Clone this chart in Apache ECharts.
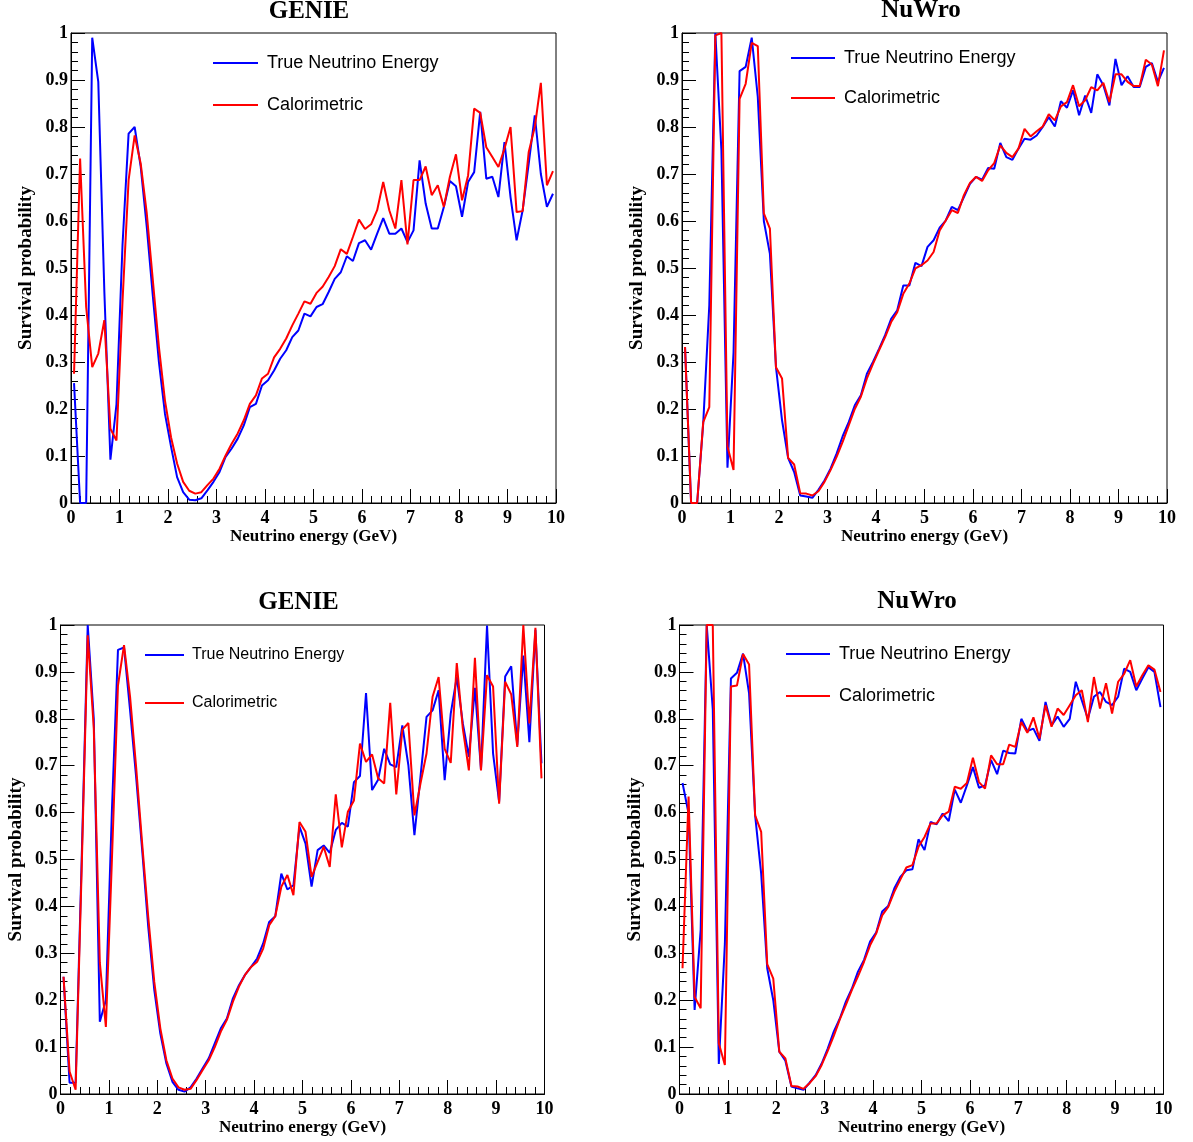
<!DOCTYPE html>
<html>
<head>
<meta charset="utf-8">
<title>Survival probability vs neutrino energy</title>
<script src="https://cdn.jsdelivr.net/npm/echarts@6/dist/echarts.min.js"></script>
<style>
  html, body { margin: 0; padding: 0; background: #ffffff; }
  #chart { width: 1193px; height: 1142px; }
</style>
</head>
<body>
<div id="chart"></div>
<script>
// Histogram binning: 80 bins of 0.125 GeV between 0 and 10 GeV
const binWidth = 0.125;
const binCenters = Array.from({ length: 80 }, (_, i) => binWidth / 2 + binWidth * i);

const xTicks = [0, 1, 2, 3, 4, 5, 6, 7, 8, 9, 10];
const yTicks = [0, 0.1, 0.2, 0.3, 0.4, 0.5, 0.6, 0.7, 0.8, 0.9, 1];

const seriesNames = ['True Neutrino Energy', 'Calorimetric'];
const panelTitles = ['GENIE', 'NuWro', 'GENIE', 'NuWro'];

// GENIE, upper panel
const genieTrueA = [
  0.255, 0, 0, 0.99, 0.896, 0.45, 0.092, 0.21, 0.55, 0.786,
  0.80, 0.715, 0.587, 0.44, 0.30, 0.19, 0.12, 0.055, 0.023, 0.007,
  0.006, 0.01, 0.027, 0.045, 0.066, 0.098, 0.116, 0.137, 0.165, 0.204,
  0.211, 0.25, 0.261, 0.282, 0.307, 0.325, 0.353, 0.367, 0.403, 0.397,
  0.417, 0.423, 0.449, 0.477, 0.491, 0.525, 0.515, 0.553, 0.559, 0.539,
  0.573, 0.606, 0.573, 0.573, 0.584, 0.555, 0.58, 0.729, 0.637, 0.584,
  0.584, 0.63, 0.685, 0.674, 0.609, 0.683, 0.704, 0.832, 0.69, 0.694,
  0.651, 0.768, 0.651, 0.559, 0.623, 0.722, 0.825, 0.70, 0.63, 0.658
];
const genieCaloA = [
  0.275, 0.733, 0.417, 0.289, 0.318, 0.389, 0.158, 0.133, 0.43, 0.687,
  0.782, 0.722, 0.616, 0.474, 0.332, 0.218, 0.14, 0.084, 0.045, 0.026,
  0.02, 0.023, 0.038, 0.052, 0.073, 0.101, 0.126, 0.148, 0.176, 0.211,
  0.229, 0.265, 0.275, 0.31, 0.328, 0.35, 0.378, 0.403, 0.429, 0.424,
  0.447, 0.46, 0.481, 0.504, 0.54, 0.53, 0.566, 0.603, 0.583, 0.593,
  0.623, 0.683, 0.623, 0.584, 0.687, 0.55, 0.687, 0.687, 0.716, 0.655,
  0.676, 0.63, 0.694, 0.742, 0.644, 0.697, 0.839, 0.83, 0.757, 0.736,
  0.715, 0.754, 0.80, 0.619, 0.621, 0.747, 0.80, 0.894, 0.676, 0.706
];

// NuWro, upper panel
const nuwroTrueA = [
  0.332, 0, 0, 0.17, 0.42, 1.0, 0.75, 0.075, 0.32, 0.919,
  0.928, 0.99, 0.864, 0.60, 0.53, 0.289, 0.176, 0.096, 0.066, 0.016,
  0.014, 0.011, 0.028, 0.048, 0.073, 0.105, 0.142, 0.172, 0.208, 0.229,
  0.275, 0.30, 0.328, 0.357, 0.392, 0.41, 0.463, 0.463, 0.511, 0.504,
  0.545, 0.559, 0.586, 0.601, 0.63, 0.623, 0.651, 0.679, 0.694, 0.688,
  0.713, 0.711, 0.766, 0.736, 0.73, 0.754, 0.775, 0.773, 0.782, 0.80,
  0.821, 0.801, 0.855, 0.841, 0.878, 0.825, 0.867, 0.83, 0.912, 0.889,
  0.846, 0.945, 0.889, 0.908, 0.885, 0.885, 0.928, 0.936, 0.896, 0.926
];
const nuwroCaloA = [
  0.332, 0, 0, 0.172, 0.204, 0.995, 1.0, 0.12, 0.07, 0.86,
  0.892, 0.979, 0.972, 0.616, 0.584, 0.289, 0.265, 0.096, 0.082, 0.021,
  0.02, 0.016, 0.025, 0.045, 0.07, 0.098, 0.13, 0.165, 0.20, 0.226,
  0.265, 0.296, 0.325, 0.353, 0.385, 0.406, 0.445, 0.467, 0.499, 0.506,
  0.516, 0.534, 0.58, 0.601, 0.623, 0.617, 0.655, 0.681, 0.694, 0.685,
  0.708, 0.723, 0.761, 0.745, 0.736, 0.754, 0.796, 0.78, 0.791, 0.801,
  0.827, 0.814, 0.844, 0.853, 0.889, 0.844, 0.857, 0.885, 0.878, 0.894,
  0.853, 0.912, 0.912, 0.896, 0.887, 0.887, 0.943, 0.933, 0.887, 0.963
];

// GENIE, lower panel
const genieTrueB = [
  0.25, 0.024, 0.024, 0.5, 1.0, 0.80, 0.154, 0.2, 0.605, 0.947,
  0.952, 0.818, 0.676, 0.52, 0.357, 0.222, 0.129, 0.065, 0.026, 0.009,
  0.005, 0.014, 0.033, 0.055, 0.076, 0.108, 0.14, 0.161, 0.204, 0.232,
  0.254, 0.271, 0.289, 0.321, 0.367, 0.379, 0.47, 0.436, 0.445, 0.57,
  0.534, 0.442, 0.52, 0.53, 0.514, 0.563, 0.578, 0.57, 0.665, 0.678,
  0.855, 0.648, 0.67, 0.736, 0.703, 0.697, 0.786, 0.701, 0.552, 0.676,
  0.804, 0.818, 0.861, 0.669, 0.811, 0.889, 0.79, 0.719, 0.866, 0.692,
  0.999, 0.726, 0.623, 0.89, 0.912, 0.744, 0.935, 0.75, 0.99, 0.705
];
const genieCaloB = [
  0.25, 0.048, 0.009, 0.48, 0.978, 0.78, 0.28, 0.143, 0.5, 0.871,
  0.957, 0.847, 0.697, 0.534, 0.378, 0.239, 0.14, 0.072, 0.033, 0.014,
  0.009, 0.011, 0.03, 0.051, 0.072, 0.10, 0.133, 0.158, 0.197, 0.229,
  0.254, 0.271, 0.282, 0.31, 0.36, 0.379, 0.442, 0.467, 0.424, 0.58,
  0.559, 0.463, 0.495, 0.527, 0.484, 0.639, 0.526, 0.602, 0.626, 0.747,
  0.708, 0.724, 0.673, 0.662, 0.834, 0.639, 0.777, 0.791, 0.594, 0.662,
  0.726, 0.847, 0.889, 0.736, 0.706, 0.919, 0.779, 0.69, 0.93, 0.69,
  0.893, 0.869, 0.619, 0.879, 0.852, 0.74, 1.0, 0.79, 0.994, 0.673
];

// NuWro, lower panel
const nuwroTrueB = [
  0.663, 0.598, 0.179, 0.35, 1.0, 0.82, 0.064, 0.32, 0.886, 0.898,
  0.939, 0.854, 0.594, 0.47, 0.268, 0.2, 0.09, 0.071, 0.016, 0.012,
  0.009, 0.024, 0.04, 0.065, 0.097, 0.133, 0.161, 0.197, 0.225, 0.261,
  0.286, 0.325, 0.344, 0.389, 0.401, 0.438, 0.463, 0.477, 0.479, 0.543,
  0.52, 0.58, 0.575, 0.598, 0.582, 0.649, 0.621, 0.658, 0.697, 0.653,
  0.658, 0.712, 0.682, 0.732, 0.727, 0.726, 0.80, 0.774, 0.779, 0.753,
  0.836, 0.786, 0.805, 0.783, 0.80, 0.879, 0.839, 0.80, 0.847, 0.857,
  0.836, 0.829, 0.847, 0.907, 0.90, 0.861, 0.886, 0.91, 0.90, 0.825
];
const nuwroCaloB = [
  0.268, 0.634, 0.207, 0.183, 1.0, 1.0, 0.108, 0.062, 0.869, 0.871,
  0.938, 0.916, 0.594, 0.559, 0.277, 0.246, 0.09, 0.076, 0.017, 0.016,
  0.011, 0.023, 0.038, 0.062, 0.092, 0.124, 0.159, 0.19, 0.222, 0.251,
  0.282, 0.317, 0.342, 0.381, 0.399, 0.431, 0.457, 0.483, 0.488, 0.527,
  0.548, 0.577, 0.577, 0.594, 0.602, 0.655, 0.651, 0.663, 0.717, 0.665,
  0.651, 0.722, 0.703, 0.703, 0.745, 0.74, 0.793, 0.77, 0.803, 0.758,
  0.829, 0.783, 0.822, 0.808, 0.829, 0.85, 0.861, 0.793, 0.889, 0.822,
  0.876, 0.811, 0.879, 0.896, 0.925, 0.869, 0.893, 0.914, 0.905, 0.857
];

const panelData = [
  [genieTrueA, genieCaloA],
  [nuwroTrueA, nuwroCaloA],
  [genieTrueB, genieCaloB],
  [nuwroTrueB, nuwroCaloB]
];

const SERIF = '"Liberation Serif", "Times New Roman", serif';
const SANS = '"Liberation Sans", Arial, Helvetica, sans-serif';
const lineColors = ['#0000ff', '#ff0000'];

// Frame geometry of the four pads
const grids = [
  { left: 71, top: 33, width: 485, height: 470 },
  { left: 682, top: 33, width: 485, height: 470 },
  { left: 60.5, top: 625, width: 484, height: 469 },
  { left: 679.5, top: 625, width: 484, height: 469 }
];

const titlePos = [[309, 12], [921, 11], [298.5, 603], [917, 602]];

const legendLayout = [
  { left: 213, top: 54, itemWidth: 45, itemGap: 24, fontSize: 18, pad: 4 },
  { left: 791, top: 49, itemWidth: 44, itemGap: 22, fontSize: 18, pad: 4 },
  { left: 145, top: 647, itemWidth: 39, itemGap: 32, fontSize: 16, pad: 3 },
  { left: 786, top: 645, itemWidth: 44, itemGap: 24, fontSize: 18, pad: 4 }
];

const chart = echarts.init(document.getElementById('chart'), null, { renderer: 'canvas' });

const option = {
  backgroundColor: '#ffffff',
  animation: false,
  grid: grids.map(g => ({
    left: g.left, top: g.top, width: g.width, height: g.height,
    show: true, borderColor: '#000000', borderWidth: 1, backgroundColor: 'transparent',
    containLabel: false
  })),
  xAxis: grids.map((g, gi) => ({
    type: 'value', gridIndex: gi,
    min: xTicks[0], max: xTicks[xTicks.length - 1], interval: xTicks[1] - xTicks[0],
    name: 'Neutrino energy (GeV)', nameLocation: 'middle', nameGap: 24,
    nameTextStyle: { fontFamily: SERIF, fontWeight: 'bold', fontSize: 17, color: '#000', verticalAlign: 'top' },
    axisLine: { show: true, onZero: false, lineStyle: { color: '#000', width: 1 } },
    axisTick: { show: true, inside: true, length: 14, lineStyle: { color: '#000', width: 1 } },
    minorTick: { show: true, splitNumber: 5, length: 7, lineStyle: { color: '#000', width: 1 } },
    axisLabel: { margin: 6, fontFamily: SERIF, fontWeight: 'bold', fontSize: 18, color: '#000', showMinLabel: true, showMaxLabel: true },
    splitLine: { show: false }, minorSplitLine: { show: false }
  })),
  yAxis: grids.map((g, gi) => ({
    type: 'value', gridIndex: gi,
    min: yTicks[0], max: yTicks[yTicks.length - 1], interval: 0.1,
    name: 'Survival probability', nameLocation: 'middle', nameGap: 35, nameRotate: 90,
    nameTextStyle: { fontFamily: SERIF, fontWeight: 'bold', fontSize: 19, color: '#000' },
    axisLine: { show: true, onZero: false, lineStyle: { color: '#000', width: 1 } },
    axisTick: { show: true, inside: true, length: 14, lineStyle: { color: '#000', width: 1 } },
    minorTick: { show: true, splitNumber: 5, length: 7, lineStyle: { color: '#000', width: 1 } },
    axisLabel: { margin: 3, fontFamily: SERIF, fontWeight: 'bold', fontSize: 18, color: '#000', showMinLabel: true, showMaxLabel: true },
    splitLine: { show: false }, minorSplitLine: { show: false }
  })),
  legend: legendLayout.map(l => ({
    orient: 'vertical', left: l.left, top: l.top, padding: 0,
    itemWidth: l.itemWidth, itemHeight: 2, itemGap: l.itemGap, icon: 'rect',
    selectedMode: false,
    textStyle: { fontFamily: SANS, fontSize: l.fontSize, color: '#000', padding: [0, 0, 0, l.pad] },
    data: seriesNames
  })),
  graphic: panelTitles.map((t, i) => ({
    type: 'text', x: titlePos[i][0], y: titlePos[i][1],
    style: {
      text: t, textAlign: 'center', textVerticalAlign: 'middle',
      font: 'bold 25px ' + SERIF, fill: '#000'
    }
  })),
  series: []
};

panelData.forEach((pair, gi) => {
  pair.forEach((vals, si) => {
    option.series.push({
      type: 'line', name: seriesNames[si],
      xAxisIndex: gi, yAxisIndex: gi,
      data: vals.map((v, i) => [binCenters[i], v]),
      symbol: 'none', smooth: false, clip: true,
      color: lineColors[si],
      lineStyle: { color: lineColors[si], width: 2 },
      itemStyle: { color: lineColors[si] },
      emphasis: { disabled: true },
      z: 2 + si
    });
  });
});

chart.setOption(option);
</script>
</body>
</html>
